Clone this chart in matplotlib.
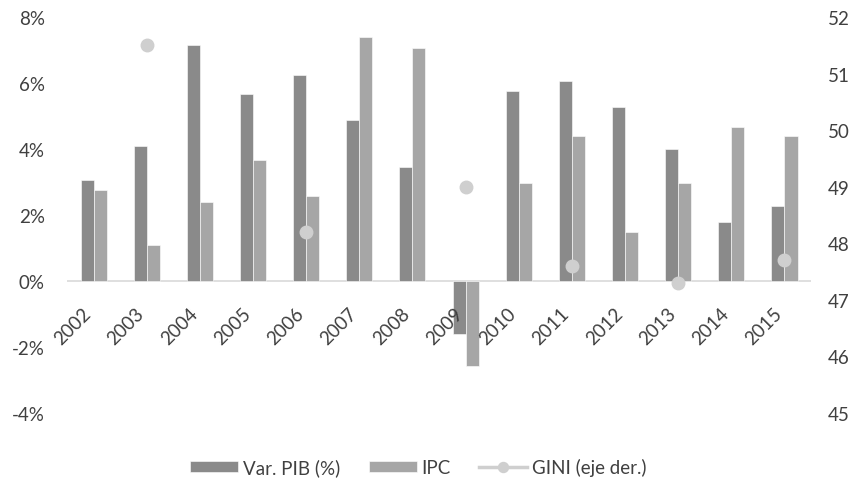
import numpy as np
import matplotlib
matplotlib.use("Agg")
import matplotlib.pyplot as plt
from matplotlib.ticker import FuncFormatter

plt.rcParams['font.family'] = ['Lato', 'DejaVu Sans']

years = ["2002", "2003", "2004", "2005", "2006", "2007", "2008",
         "2009", "2010", "2011", "2012", "2013", "2014", "2015"]
pib = [3.06, 4.10, 7.14, 5.67, 6.25, 4.88, 3.45,
       -1.60, 5.77, 6.06, 5.27, 3.99, 1.78, 2.27]
ipc = [2.77, 1.10, 2.38, 3.66, 2.58, 7.38, 7.05,
       -2.58, 2.96, 4.38, 1.48, 2.96, 4.68, 4.38]
gini = [np.nan, 51.5, np.nan, np.nan, 48.2, np.nan, np.nan,
        49.0, np.nan, 47.6, np.nan, 47.3, np.nan, 47.7]

c_pib = "#8a8a8a"
c_ipc = "#a6a6a6"
c_gini = "#cfcfcf"
txt = "#404040"

fig = plt.figure(figsize=(8.61, 4.81), dpi=100)
ax = fig.add_axes([0.0778, 0.1393, 0.942 - 0.0778, 0.9626 - 0.1393])

x = np.arange(len(years))
w = 0.245
ax.bar(x - w / 2, pib, width=w, color=c_pib, edgecolor="white", linewidth=0.4,
       label="Var. PIB (%)", zorder=2)
ax.bar(x + w / 2, ipc, width=w, color=c_ipc, edgecolor="white", linewidth=0.4,
       label="IPC", zorder=2)
ax.axhline(0, color="#d9d9d9", linewidth=1.2, zorder=1)

ax.set_xlim(-0.5, len(years) - 0.5)
ax.set_ylim(-4, 8)
ax.set_yticks([-4, -2, 0, 2, 4, 6, 8])
ax.yaxis.set_major_formatter(FuncFormatter(lambda v, p: f"{v:.0f}%"))
ax.set_xticks([])
for s in ax.spines.values():
    s.set_visible(False)
ax.tick_params(axis="y", length=0, labelsize=13.5, labelcolor=txt, pad=16)

# year labels sit just below the zero line
for xi, yr in zip(x, years):
    ax.text(xi - 0.1, -0.88, yr, rotation=45, rotation_mode="anchor",
            ha="right", va="center", fontsize=13.5, color=txt, zorder=3)

ax2 = ax.twinx()
ax2.plot(x, gini, color=c_gini, linewidth=2.5, marker="o", markersize=9,
         label="GINI (eje der.)", zorder=4)
ax2.set_ylim(45, 52)
ax2.set_yticks(range(45, 53))
for s in ax2.spines.values():
    s.set_visible(False)
ax2.tick_params(axis="y", length=0, labelsize=13.5, labelcolor=txt, pad=12)

h1, l1 = ax.get_legend_handles_labels()
h2, l2 = ax2.get_legend_handles_labels()
fig.legend(h1 + h2, l1 + l2, loc="center", bbox_to_anchor=(0.486, 0.027),
           ncol=3, frameon=False, fontsize=13.5, labelcolor=txt,
           handlelength=2.56, handleheight=0.55, columnspacing=1.5,
           handletextpad=0.27, markerscale=0.8)

fig.savefig("out.png", dpi=100)
